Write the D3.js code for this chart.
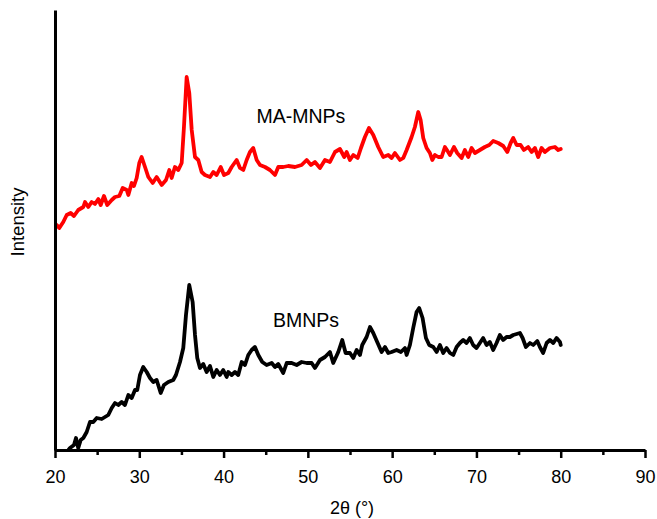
<!DOCTYPE html>
<html>
<head>
<meta charset="utf-8">
<script src="https://cdn.jsdelivr.net/npm/d3@7/dist/d3.min.js"></script>
<style>
  html, body { margin: 0; padding: 0; background: #fff; }
  svg { display: block; }
  text { font-family: "Liberation Sans", Arial, Helvetica, sans-serif; fill: #000; }
</style>
</head>
<body>
<svg id="chart" width="657" height="519"></svg>
<script>
// ---- Data (2θ in degrees, intensity in arbitrary units) ----
const maTheta = [20.20,20.51,20.98,21.39,21.86,22.25,22.76,23.36,23.56,23.95,24.35,24.74,25.14,25.42,25.81,26.20,26.73,27.12,27.63,28.03,28.51,28.70,29.10,29.37,29.69,30.00,30.28,30.68,31.07,31.59,32.06,32.66,33.17,33.56,33.84,34.23,34.63,35.03,35.30,35.62,35.93,36.22,36.61,37.00,37.40,37.79,38.39,38.78,39.18,39.66,40.05,40.56,40.96,41.55,41.95,42.34,42.74,43.13,43.52,43.93,44.32,44.91,45.50,46.10,46.49,47.08,47.68,48.47,49.26,49.86,50.37,50.84,51.44,52.03,52.62,53.22,53.81,54.32,54.60,54.99,55.39,55.91,56.30,56.77,57.25,57.76,58.35,58.94,59.54,59.94,60.33,60.93,61.32,61.72,62.31,62.70,63.10,63.38,63.69,64.09,64.48,64.76,65.08,65.47,65.87,66.26,66.65,66.86,67.33,67.72,68.24,68.63,69.03,69.43,69.82,70.41,71.00,71.52,71.99,72.59,73.18,73.66,74.06,74.37,74.77,75.24,75.63,76.14,76.55,76.94,77.33,77.73,78.12,78.72,79.31,79.70,80.00];
const maIntensity = [225,222,228,235,237,234,240,243,248,243,248,246,251,245,254,245,250,253,254,262,260,255,267,264,272,287,293,283,273,267,273,265,270,280,272,283,280,287,323,373,357,320,293,290,278,275,273,278,275,283,275,277,283,290,282,280,290,298,302,290,285,283,280,275,283,283,284,283,285,290,285,288,282,290,288,298,301,293,298,290,295,292,302,313,322,315,303,293,295,292,297,290,292,300,313,323,338,330,312,302,297,290,295,293,293,303,298,295,303,297,292,300,293,302,297,300,303,305,309,307,304,298,307,312,305,305,300,303,298,302,293,302,298,302,303,300,301];

const bTheta = [21.60,21.78,22.25,22.49,22.76,23.05,23.36,23.76,24.15,24.54,24.95,25.54,25.93,26.32,26.73,27.12,27.51,27.91,28.30,28.70,29.10,29.49,29.76,30.08,30.47,30.88,31.27,31.66,32.06,32.54,32.93,33.44,34.03,34.35,34.83,35.22,35.54,35.93,36.33,36.61,36.88,37.20,37.59,37.99,38.39,38.78,39.18,39.57,39.96,40.37,40.56,40.96,41.35,41.74,42.15,42.54,42.93,43.33,43.72,44.12,44.59,45.11,45.71,46.10,46.49,47.08,47.49,48.08,48.67,49.26,49.86,50.45,50.84,51.44,52.03,52.62,53.01,53.61,54.08,54.48,54.99,55.39,55.79,56.18,56.45,56.97,57.37,57.76,58.28,58.75,59.15,59.54,59.94,60.53,61.04,61.52,61.72,62.11,62.50,62.90,63.21,63.61,64.01,64.40,64.88,65.28,65.67,66.06,66.46,66.86,67.25,67.65,68.04,68.43,68.83,69.22,69.61,70.01,70.41,70.80,71.20,71.59,71.99,72.39,72.78,73.17,73.58,73.97,74.37,74.77,75.16,75.48,75.87,76.35,76.74,77.22,77.53,77.92,78.33,78.72,79.12,79.51,79.91,80.00];
const bIntensity = [0,2,5,12,2,10,12,18,28,28,32,31,33,35,42,47,45,48,45,55,52,60,60,75,83,78,72,68,70,57,65,68,70,75,88,102,135,165,148,115,92,82,86,78,84,73,80,75,80,73,78,75,78,75,88,85,95,100,103,95,88,85,87,83,86,77,87,87,85,88,87,87,82,90,93,98,87,98,110,97,97,92,100,95,105,113,123,117,107,98,103,97,98,100,98,102,95,105,122,138,142,132,112,105,103,98,105,97,102,97,95,103,107,110,107,112,105,102,107,112,105,108,100,107,115,110,113,113,115,116,117,112,103,107,105,109,103,97,107,110,107,112,108,105];

const xMajorTicks = [20, 30, 40, 50, 60, 70, 80, 90];
const xMinorTicks = [25, 35, 45, 55, 65, 75, 85];
const seriesNames = ["MA-MNPs", "BMNPs"];
const seriesColors = ["#ff0000", "#000000"];
const xTitle = "2θ (°)";
const yTitle = "Intensity";

// ---- Layout ----
const svg = d3.select("#chart");
const x = d3.scaleLinear().domain([20, 90]).range([55, 645]);
const y = d3.scaleLinear().domain([0, 440]).range([450, 10]);

svg.append("defs").append("clipPath").attr("id", "plotclip")
  .append("rect").attr("x", 55).attr("y", 0).attr("width", 600).attr("height", 450);

const line = d3.line().x(d => x(d[0])).y(d => y(d[1]));

const maData = maTheta.map((t, i) => [t, maIntensity[i]]);
const bData = bTheta.map((t, i) => [t, bIntensity[i]]);

const plot = svg.append("g").attr("clip-path", "url(#plotclip)");
plot.append("path").datum(maData)
  .attr("d", line).attr("fill", "none")
  .attr("stroke", seriesColors[0]).attr("stroke-width", 3.8)
  .attr("stroke-linejoin", "round").attr("stroke-linecap", "round");
plot.append("path").datum(bData)
  .attr("d", line).attr("fill", "none")
  .attr("stroke", seriesColors[1]).attr("stroke-width", 3.8)
  .attr("stroke-linejoin", "round").attr("stroke-linecap", "round");

// ---- Axes ----
const minorAxis = svg.append("g").attr("transform", "translate(0,450)")
  .call(d3.axisBottom(x).tickValues(xMinorTicks).tickSize(5).tickSizeOuter(0).tickFormat(""));
minorAxis.select(".domain").remove();
minorAxis.selectAll(".tick line").attr("stroke", "#000").attr("stroke-width", 2.5);

const majorAxis = svg.append("g").attr("transform", "translate(0,450)")
  .call(d3.axisBottom(x).tickValues(xMajorTicks).tickSize(8).tickSizeOuter(0).tickPadding(12));
majorAxis.select(".domain").attr("stroke", "#000").attr("stroke-width", 3);
majorAxis.selectAll(".tick line").attr("stroke", "#000").attr("stroke-width", 2.5);
majorAxis.selectAll(".tick text")
  .style("font-family", "'Liberation Sans', Arial, sans-serif")
  .attr("font-size", 18).attr("fill", "#000");

// left axis (plain line, no ticks)
const yAxis = svg.append("g").attr("transform", "translate(55,0)")
  .call(d3.axisLeft(y).tickValues([]).tickSizeOuter(0));
yAxis.select(".domain").attr("stroke", "#000").attr("stroke-width", 3);

// ---- Titles ----
svg.append("text").attr("x", 352).attr("y", 514)
  .attr("text-anchor", "middle").attr("font-size", 18).text(xTitle);
svg.append("text").attr("transform", "translate(24,222) rotate(-90)")
  .attr("text-anchor", "middle").attr("font-size", 18.5).text(yTitle);

// ---- Series labels ----
svg.append("text").attr("x", 256.5).attr("y", 123).attr("font-size", 19.5).text(seriesNames[0]);
svg.append("text").attr("x", 273).attr("y", 327).attr("font-size", 19.5).text(seriesNames[1]);
</script>
</body>
</html>
